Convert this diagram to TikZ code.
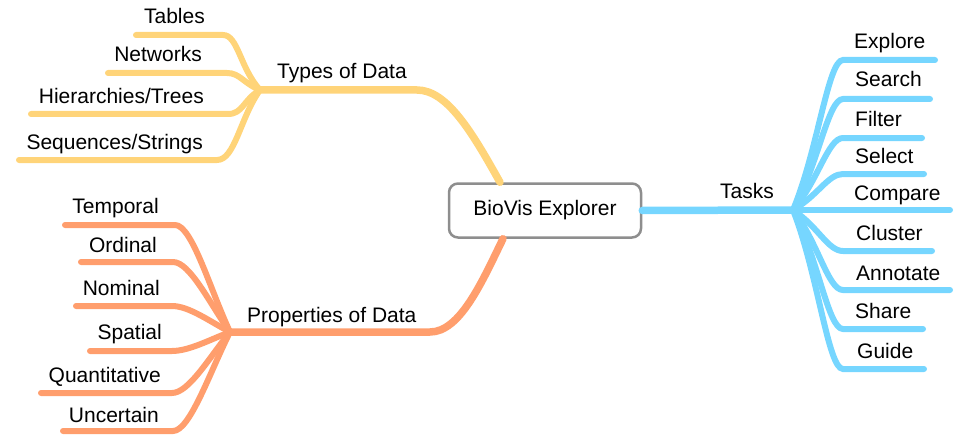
\documentclass[tikz,border=0pt]{standalone}
\usepackage{fontspec}
\setmainfont{Liberation Sans}
\definecolor{ybr}{HTML}{FFD479}
\definecolor{obr}{HTML}{FF9E6D}
\definecolor{bbr}{HTML}{76D6FF}
\definecolor{boxgray}{HTML}{8E8E8E}
\tikzset{
  lbl/.style={font=\fontsize{21}{25}\selectfont, inner sep=0pt},
  lblL/.style={lbl, anchor=base east},
  lblR/.style={lbl, anchor=base west},
  mainbr/.style={line width=7.5pt, line cap=round},
  leafbr/.style={line width=6pt, line cap=round},
  rootbox/.style={draw=boxgray, line width=2.5pt, rounded corners=9pt, fill=white,
    minimum width=192pt, minimum height=54pt, font=\fontsize{21}{25}\selectfont, inner sep=0pt}
}
\begin{document}
\begin{tikzpicture}[x=1pt,y=-1pt]
\useasboundingbox (0,0) rectangle (954,436);
% hubs
\coordinate (ty) at (260,90);
\coordinate (pr) at (230,332);
\coordinate (ta) at (793,210);
\coordinate (tyB) at (417,90);
\coordinate (prB) at (430,332);

% ---- yellow leaves
\foreach \n/\y/\xl/\xr in {tab/35/136/223, net/73/108/227, hie/114/31/228, seq/160/19/217}{
  \coordinate (\n R) at (\xr,\y);
  \coordinate (\n L) at (\xl,\y);
}
% ---- orange leaves
\foreach \n/\y/\xl/\xr in {tem/225/65/175, ord/262/81/173, nom/306/76/172, spa/351/90/172, qua/393/41/172, unc/431/63/173}{
  \coordinate (\n R) at (\xr,\y);
  \coordinate (\n L) at (\xl,\y);
}
% ---- blue leaves
\foreach \n/\y/\xr in {exp/60/935, sea/99/930, fil/138/922, sel/174/924, clu/251/932, ann/290/950, sha/329/923, gui/369/924}{
  \coordinate (\n L) at (843,\y);
  \coordinate (\n R) at (\xr,\y);
}
\coordinate (comR) at (950,210);

% root node
\node[rootbox] (root) at (545,210.5) {BioVis Explorer};

% main branches
\draw[mainbr, ybr] (ty) -- (tyB) .. controls (447,90) and (472,132) .. ([xshift=-45pt]root.north);
\draw[mainbr, obr] (pr) -- (prB) .. controls (460,332) and (482,282) .. ([xshift=-42pt]root.south);
\draw[mainbr, bbr] (root.east) -- (ta);

% yellow leaves
\draw[leafbr, ybr] (ty) .. controls (240,68) and (238,35) .. (tabR) -- (tabL);
\draw[leafbr, ybr] (ty) .. controls (243,83) and (240,73) .. (netR) -- (netL);
\draw[leafbr, ybr] (ty) .. controls (243,100) and (243,114) .. (hieR) -- (hieL);
\draw[leafbr, ybr] (ty) .. controls (240,118) and (235,160) .. (seqR) -- (seqL);

% orange leaves
\foreach \n/\y in {tem/225, ord/262, nom/306, spa/351, qua/393, unc/431}{
  \draw[leafbr, obr] (pr) .. controls +(-20,{0.4*(\y-332)}) and +(17,0) .. (\n R) -- (\n L);
}
% blue leaves
\foreach \n/\y in {exp/60, sea/99, fil/138, sel/174, clu/251, ann/290, sha/329, gui/369}{
  \draw[leafbr, bbr] (ta) .. controls +(25,{0.4*(\y-210)}) and +(-15,0) .. (\n L) -- (\n R);
}
\draw[leafbr, bbr] (ta) -- (comR);

% labels
\node[lblR] (tyLab) at (277,79) {Types of Data};
\node[lblR] (prLab) at (247,322) {Properties of Data};
\node[lblR] (taLab) at (720,198) {Tasks};

\node[lblL] (tab) at (205,24) {Tables};
\node[lblL] (net) at (202,62) {Networks};
\node[lblL] (hie) at (204,103) {Hierarchies/Trees};
\node[lblL] (seq) at (203,149) {Sequences/Strings};

\node[lblL] (tem) at (159,213) {Temporal};
\node[lblL] (ord) at (157,252) {Ordinal};
\node[lblL] (nom) at (160,295) {Nominal};
\node[lblL] (spa) at (162,339) {Spatial};
\node[lblL] (qua) at (161,382) {Quantitative};
\node[lblL] (unc) at (159,422) {Uncertain};

\node[lblR] (exp) at (854,49) {Explore};
\node[lblR] (sea) at (855,87) {Search};
\node[lblR] (fil) at (855,127) {Filter};
\node[lblR] (sel) at (855,163) {Select};
\node[lblR] (com) at (854,200) {Compare};
\node[lblR] (clu) at (856,240) {Cluster};
\node[lblR] (ann) at (856,280) {Annotate};
\node[lblR] (sha) at (855,318) {Share};
\node[lblR] (gui) at (857,358) {Guide};
\end{tikzpicture}
\end{document}
